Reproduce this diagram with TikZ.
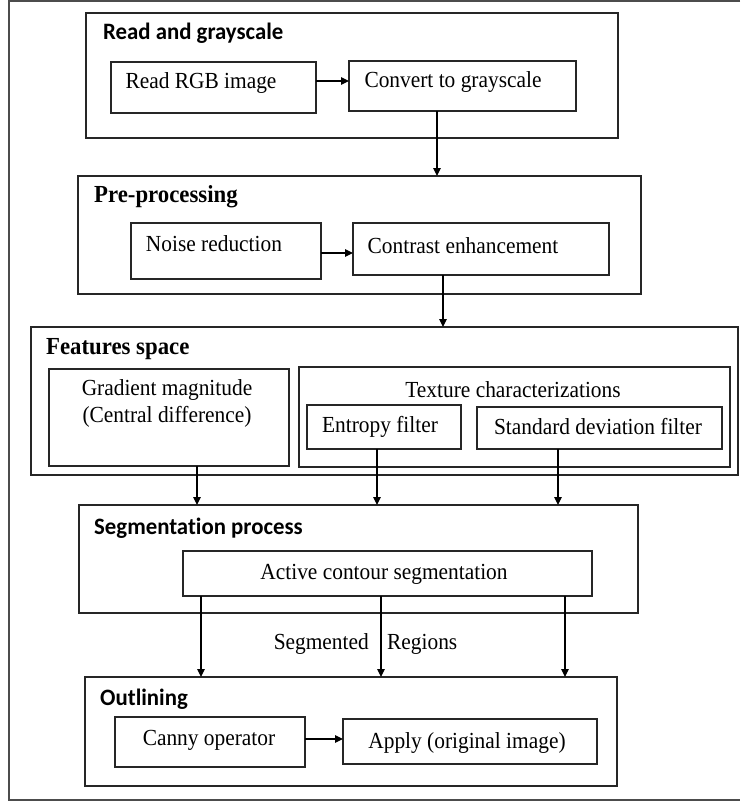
\documentclass[tikz,border=0pt]{standalone}
\usepackage{fontspec}
\setmainfont[FakeStretch=0.93]{Liberation Serif}
\newfontfamily\titlesans[FakeStretch=0.97,Ligatures={NoCommon,NoDiscretionary}]{Carlito}
\newfontfamily\titleserif[FakeStretch=0.93]{Liberation Serif}
\usetikzlibrary{arrows.meta}
\newcommand\pbox[5]{\node[boxst, anchor=north west, minimum width={(#4-#2)*1pt}, minimum height={(#5-#3)*1pt}] (#1) at (#2,#3) {};}
\tikzset{
  boxst/.style={draw=black!85, line width=1.3pt, inner sep=0pt, outer sep=0pt, fill=none},
  arr/.style={draw=black, line width=1.2pt, -{Triangle[length=8pt,width=7.5pt]}},
  txt/.style={inner sep=0pt, font=\fontsize{23}{27}\selectfont},
  tsans/.style={inner sep=0pt, anchor=west, font=\titlesans\bfseries\fontsize{23.5}{27}\selectfont},
  tserif/.style={inner sep=0pt, anchor=west, font=\titleserif\bfseries\fontsize{24.5}{28}\selectfont},
  frame/.style={draw=black!70, line width=1.2pt}
}
\begin{document}
\begin{tikzpicture}[x=1pt,y=-1pt]
\useasboundingbox (0,0) rectangle (740,803);
\coordinate (fa) at (740,1);
\coordinate (fb) at (9,1);
\coordinate (fc) at (9,800);
\coordinate (fd) at (740,800);
\draw[frame] (fa) -- (fb) -- (fc) -- (fd);

% Block 1
\pbox{b1}{86}{13}{618}{138}
\pbox{rgb}{111}{62}{316}{113}
\pbox{conv}{349}{61}{576}{111}
\node[tsans] (t1) at (103,33) {Read and grayscale};
\node[txt] (trgb) at (201,83) {Read RGB image};
\node[txt] (tconv) at (453,82) {Convert to grayscale};
\draw[arr] (rgb.east |- 0,81) -- (conv.west |- 0,81);

% Block 2
\pbox{b2}{78}{176}{641}{294}
\pbox{noise}{131}{223}{321}{279}
\pbox{contr}{353}{223}{609}{275}
\node[tserif] (t2) at (94,197) {Pre-processing};
\node[txt] (tnoise) at (214,244) {Noise reduction};
\node[txt] (tcontr) at (463,246) {Contrast enhancement};
\draw[arr] (conv.south -| 437,0) -- (b2.north -| 437,0);
\draw[arr] (noise.east |- 0,253) -- (contr.west |- 0,253);

% Block 3
\pbox{b3}{31}{327}{738}{475}
\pbox{grad}{49}{369}{289}{466}
\pbox{tex}{299}{367}{730}{467}
\pbox{ent}{307}{405}{461}{449}
\pbox{std}{477}{407}{722}{449}
\node[tserif] (t3) at (46,349) {Features space};
\node[txt] (tgrad1) at (167,390) {Gradient magnitude};
\node[txt] (tgrad2) at (167,417) {(Central difference)};
\node[txt] (ttex) at (513,390) {Texture characterizations};
\node[txt] (tent) at (380,427) {Entropy filter};
\node[txt] (tstd) at (598,427) {Standard deviation filter};
\draw[arr] (contr.south -| 443,0) -- (b3.north -| 443,0);

% Block 4
\pbox{b4}{79}{505}{638}{613}
\pbox{act}{183}{551}{592}{596}
\node[tsans] (t4) at (94,528) {Segmentation process};
\node[txt] (tact) at (384,574) {Active contour segmentation};
\draw[arr] (grad.south -| 197,0) -- (b4.north -| 197,0);
\draw[arr] (ent.south -| 377,0) -- (b4.north -| 377,0);
\draw[arr] (std.south -| 558,0) -- (b4.north -| 558,0);

% Block 5
\pbox{b5}{85}{677}{617}{786}
\pbox{canny}{115}{717}{305}{767}
\pbox{apply}{343}{719}{597}{764}
\node[tsans] (t5) at (100,699) {Outlining};
\node[txt] (tcanny) at (209,740) {Canny operator};
\node[txt] (tapply) at (467,743) {Apply (original image)};
\draw[arr] (act.south -| 201,0) -- (b5.north -| 201,0);
\draw[arr] (act.south -| 381,0) -- (b5.north -| 381,0);
\draw[arr] (act.south -| 565,0) -- (b5.north -| 565,0);
\draw[arr] (canny.east |- 0,739) -- (apply.west |- 0,739);
\node[txt, anchor=east] (lseg) at (369,644) {Segmented};
\node[txt, anchor=west] (lreg) at (387,644) {Regions};
\end{tikzpicture}
\end{document}
